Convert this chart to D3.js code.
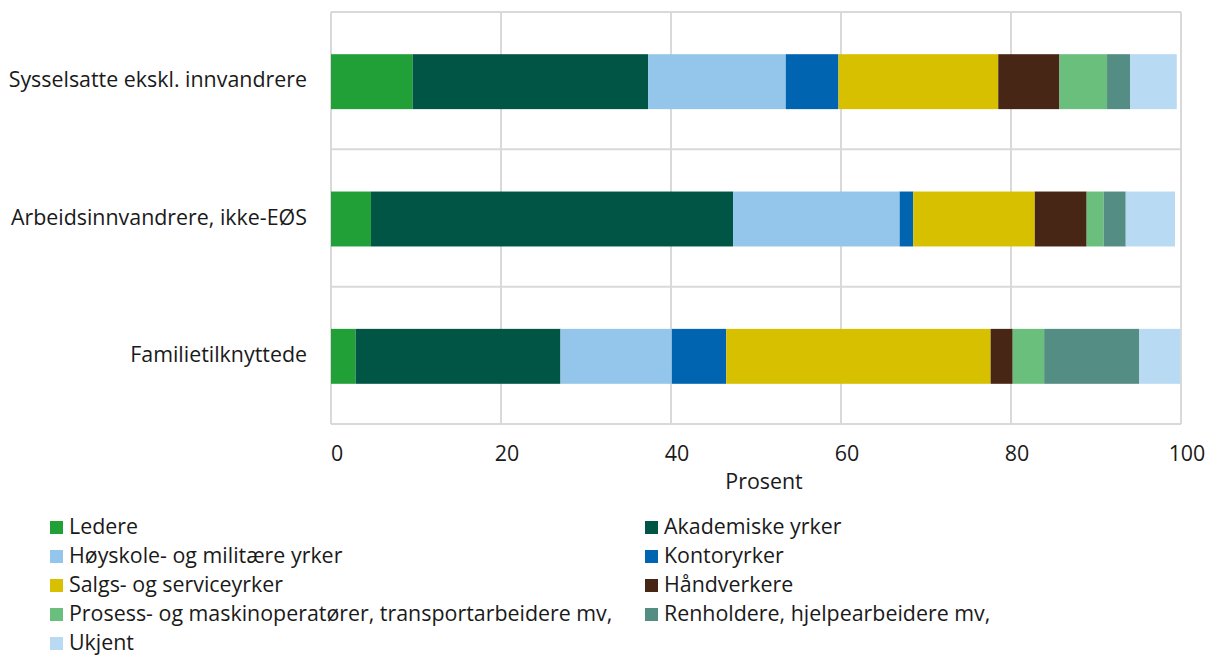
<!DOCTYPE html>
<html><head><meta charset="utf-8">
<script src="https://cdn.jsdelivr.net/npm/d3@7"></script>
<style>
body{margin:0;background:#fff;}
text{font-family:"Open Sans",sans-serif;fill:#1a1a1a;}
</style></head>
<body><svg id="c" width="1209" height="655"></svg>
<script>
const categories = ["Sysselsatte ekskl. innvandrere","Arbeidsinnvandrere, ikke-EØS","Familietilknyttede"];
const seriesNames = ["Ledere","Akademiske yrker","Høyskole- og militære yrker","Kontoryrker","Salgs- og serviceyrker","Håndverkere","Prosess- og maskinoperatører, transportarbeidere mv,","Renholdere, hjelpearbeidere mv,","Ukjent"];
const ledere     = [9.6, 4.7, 2.9];
const akademiske = [27.7, 42.6, 24.1];
const hoyskole   = [16.2, 19.6, 13.1];
const kontor     = [6.2, 1.6, 6.4];
const salgs      = [18.8, 14.3, 31.1];
const handverk   = [7.2, 6.1, 2.6];
const prosess    = [5.6, 2.0, 3.7];
const renhold    = [2.7, 2.6, 11.2];
const ukjent     = [5.5, 5.8, 4.8];
const xTicks = [0,20,40,60,80,100];
const colors = ["#21a038","#005545","#93c6ea","#0064b0","#d7c000","#482615","#6abf7d","#548d83","#b8daf2"];

const seriesVals = [ledere,akademiske,hoyskole,kontor,salgs,handverk,prosess,renhold,ukjent];
const rows = categories.map((c,i)=>{const o={cat:c}; seriesNames.forEach((s,j)=>o[s]=seriesVals[j][i]); return o;});
const stack = d3.stack().keys(seriesNames)(rows);

const svg = d3.select("#c");
const pL=331, pR=1181, pT=12, pB=424;
const x = d3.scaleLinear().domain([0,100]).range([pL,pR]);
const y = d3.scaleBand().domain(categories).range([pT,pB]).paddingInner(0).paddingOuter(0);
const barH = y.bandwidth()*0.4;
const FS = 21.4;

// grid
const g = svg.append("g");
g.selectAll("line.v").data(xTicks).join("line")
 .attr("x1",d=>x(d)).attr("x2",d=>x(d)).attr("y1",pT).attr("y2",pB)
 .attr("stroke","#d9d9d9").attr("stroke-width",2);
const hl = [pT].concat(categories.map(c=>y(c)+y.bandwidth()));
g.selectAll("line.h").data(hl).join("line")
 .attr("x1",pL).attr("x2",pR).attr("y1",d=>d).attr("y2",d=>d)
 .attr("stroke","#d9d9d9").attr("stroke-width",2);

// bars
svg.append("g").selectAll("g").data(stack).join("g")
 .attr("fill",(d,i)=>colors[i])
 .selectAll("rect").data(d=>d).join("rect")
 .attr("x",d=>x(d[0])).attr("width",d=>x(d[1])-x(d[0]))
 .attr("y",d=>y(d.data.cat)+(y.bandwidth()-barH)/2+1).attr("height",barH);

// y labels
svg.append("g").selectAll("text").data(categories).join("text")
 .attr("x",307).attr("y",d=>y(d)+y.bandwidth()/2+1).attr("text-anchor","end")
 .attr("dominant-baseline","middle").attr("font-size",FS).text(d=>d);

// x tick labels
svg.append("g").selectAll("text").data(xTicks).join("text")
 .attr("x",d=>x(d)+6).attr("y",461).attr("text-anchor","middle")
 .attr("font-size",FS).text(d=>d);
svg.append("text").attr("x",764).attr("y",489).attr("text-anchor","middle").attr("font-size",FS).text("Prosent");

// legend
const lg = svg.append("g");
seriesNames.forEach((s,i)=>{
  const col=i%2, row=Math.floor(i/2);
  const lx = col===0?50:645, ly = 527+row*29;
  lg.append("rect").attr("x",lx).attr("y",ly-6).attr("width",13).attr("height",13).attr("fill",colors[i]);
  lg.append("text").attr("x",lx+19).attr("y",ly+1.5).attr("dominant-baseline","middle").attr("font-size",FS).text(s);
});
</script></body></html>
